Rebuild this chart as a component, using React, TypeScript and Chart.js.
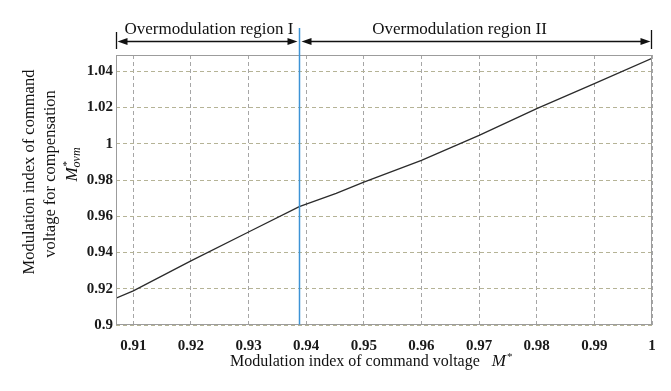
import React, { useEffect, useRef } from "react";
import { Chart, registerables } from "chart.js";

Chart.register(...registerables);

// Data
const commandIndex = [0.907, 0.91, 0.92, 0.93, 0.9388, 0.9452, 0.95, 0.96, 0.97, 0.98, 0.99, 1.0];
const compensatedIndex = [0.9148, 0.9188, 0.9354, 0.9513, 0.9653, 0.9726, 0.9788, 0.9908, 1.0046, 1.0194, 1.0332, 1.0472];
const xTicks = [0.91, 0.92, 0.93, 0.94, 0.95, 0.96, 0.97, 0.98, 0.99, 1.0];
const yTicks = [0.9, 0.92, 0.94, 0.96, 0.98, 1.0, 1.02, 1.04];
const xRange = [0.907, 1.0];
const yRange = [0.9, 1.049];
const regionBoundary = 0.9388;
const regionLabels = ["Overmodulation region I", "Overmodulation region II"];
const xAxisTitle = "Modulation index of command voltage";
const yAxisTitleLines = ["Modulation index of command", "voltage for compensation"];

const SERIF = "'Liberation Serif', 'Times New Roman', serif";

const fmt = (v: number) => String(parseFloat(Number(v).toFixed(2)));

const overlayPlugin = {
  id: "overlay",
  afterDraw(chart: any) {
    const { ctx, chartArea: a, scales } = chart;
    const x = scales.x;
    const L = Math.round(a.left) + 0.5;
    const R = Math.round(a.right) - 0.5;
    const T = Math.round(a.top) + 0.5;
    const B = Math.round(a.bottom) - 0.5;
    ctx.save();

    // plot frame
    ctx.strokeStyle = "#9c9c9c";
    ctx.lineWidth = 1;
    ctx.setLineDash([]);
    ctx.strokeRect(L, T, R - L, B - T);

    // region boundary (blue)
    const bx = Math.round(x.getPixelForValue(regionBoundary)) + 0.5;
    ctx.strokeStyle = "#3d93d6";
    ctx.lineWidth = 1.5;
    ctx.beginPath();
    ctx.moveTo(bx, 28);
    ctx.lineTo(bx, B);
    ctx.stroke();

    // double arrows
    const yA = 41.5;
    ctx.strokeStyle = "#111";
    ctx.fillStyle = "#111";
    ctx.lineWidth = 1.3;
    const arrow = (x1: number, x2: number) => {
      ctx.beginPath();
      ctx.moveTo(x1 + 6, yA);
      ctx.lineTo(x2 - 6, yA);
      ctx.stroke();
      ctx.beginPath();
      ctx.moveTo(x1, yA);
      ctx.lineTo(x1 + 10, yA - 3.5);
      ctx.lineTo(x1 + 10, yA + 3.5);
      ctx.closePath();
      ctx.fill();
      ctx.beginPath();
      ctx.moveTo(x2, yA);
      ctx.lineTo(x2 - 10, yA - 3.5);
      ctx.lineTo(x2 - 10, yA + 3.5);
      ctx.closePath();
      ctx.fill();
    };
    arrow(L + 1, bx - 2);
    arrow(bx + 2, R - 1);
    ctx.lineWidth = 1.3;
    ctx.beginPath();
    ctx.moveTo(L, 32);
    ctx.lineTo(L, 49);
    ctx.moveTo(R, 30);
    ctx.lineTo(R, 49);
    ctx.stroke();

    // region labels
    ctx.font = `17px ${SERIF}`;
    ctx.textAlign = "center";
    ctx.textBaseline = "alphabetic";
    ctx.fillStyle = "#111";
    ctx.fillText(regionLabels[0], (L + bx) / 2 + 1, 34);
    ctx.fillText(regionLabels[1], (bx + R) / 2 - 16, 34);

    // x axis title
    ctx.textAlign = "left";
    ctx.font = `16px ${SERIF}`;
    const wText = ctx.measureText(xAxisTitle).width;
    ctx.font = `italic 17px ${SERIF}`;
    const wM = ctx.measureText("M").width;
    const gap = 12;
    const total = wText + gap + wM + 6;
    const cx = (a.left + a.right) / 2 - 13;
    let sx = cx - total / 2;
    ctx.font = `16px ${SERIF}`;
    ctx.fillText(xAxisTitle, sx, 366);
    sx += wText + gap;
    ctx.font = `italic 17px ${SERIF}`;
    ctx.fillText("M", sx, 366);
    ctx.font = `11px ${SERIF}`;
    ctx.fillText("*", sx + wM + 1, 360);

    // y axis title (rotated)
    const vText = (text: string, px: number, py: number) => {
      ctx.save();
      ctx.translate(px, py);
      ctx.rotate(-Math.PI / 2);
      ctx.textAlign = "center";
      ctx.fillText(text, 0, 0);
      ctx.restore();
    };
    ctx.font = `16.5px ${SERIF}`;
    vText(yAxisTitleLines[0], 34, 172);
    vText(yAxisTitleLines[1], 55, 174);

    ctx.save();
    ctx.translate(77, 164.5);
    ctx.rotate(-Math.PI / 2);
    ctx.textAlign = "left";
    ctx.font = `italic 17px ${SERIF}`;
    const mW = ctx.measureText("M").width;
    ctx.font = `italic 12px ${SERIF}`;
    const sW = ctx.measureText("ovm").width;
    const st = -(mW + sW) / 2;
    ctx.font = `italic 17px ${SERIF}`;
    ctx.fillText("M", st, 0);
    ctx.font = `11px ${SERIF}`;
    ctx.fillText("*", st + mW + 1, -7);
    ctx.font = `italic 12px ${SERIF}`;
    ctx.fillText("ovm", st + mW, 3);
    ctx.restore();

    ctx.restore();
  },
};

export default function App() {
  const canvasRef = useRef<HTMLCanvasElement | null>(null);

  useEffect(() => {
    if (!canvasRef.current) return;
    const points = commandIndex.map((m, i) => ({ x: m, y: compensatedIndex[i] }));
    const tickFont = { family: SERIF, size: 15, weight: "bold" as const };
    const chart = new Chart(canvasRef.current, {
      type: "line",
      data: {
        datasets: [
          {
            data: points,
            borderColor: "#2b2b2b",
            borderWidth: 1.3,
            pointRadius: 0,
            tension: 0,
            fill: false,
          },
        ],
      },
      options: {
        animation: false,
        responsive: false,
        devicePixelRatio: 1,
        layout: { padding: { left: 0, right: 19, top: 55, bottom: 0 } },
        plugins: { legend: { display: false }, tooltip: { enabled: false } },
        scales: {
          x: {
            type: "linear",
            min: xRange[0],
            max: xRange[1],
            afterBuildTicks: (s: any) => {
              s.ticks = xTicks.map((v) => ({ value: v }));
            },
            afterFit: (s: any) => {
              s.height = 66;
            },
            grid: { color: "#a6a6a6", lineWidth: 1, drawTicks: false },
            border: { display: false, dash: [4, 3] },
            ticks: {
              padding: 12,
              font: tickFont,
              color: "#1a1a1a",
              maxRotation: 0,
              autoSkip: false,
              callback: (v: any) => fmt(v),
            },
          },
          y: {
            type: "linear",
            min: yRange[0],
            max: yRange[1],
            afterBuildTicks: (s: any) => {
              s.ticks = yTicks.map((v) => ({ value: v }));
            },
            afterFit: (s: any) => {
              s.width = 116;
            },
            grid: { color: "#b5b396", lineWidth: 1, drawTicks: false },
            border: { display: false, dash: [4, 3] },
            ticks: {
              padding: 3,
              font: tickFont,
              color: "#1a1a1a",
              autoSkip: false,
              callback: (v: any) => fmt(v),
            },
          },
        },
      },
      plugins: [overlayPlugin],
    });
    return () => chart.destroy();
  }, []);

  return (
    <div style={{ position: "absolute", left: 0, top: 0, width: 671, height: 391, background: "#fff" }}>
      <canvas ref={canvasRef} width={671} height={391} style={{ display: "block", width: 671, height: 391 }} />
    </div>
  );
}
